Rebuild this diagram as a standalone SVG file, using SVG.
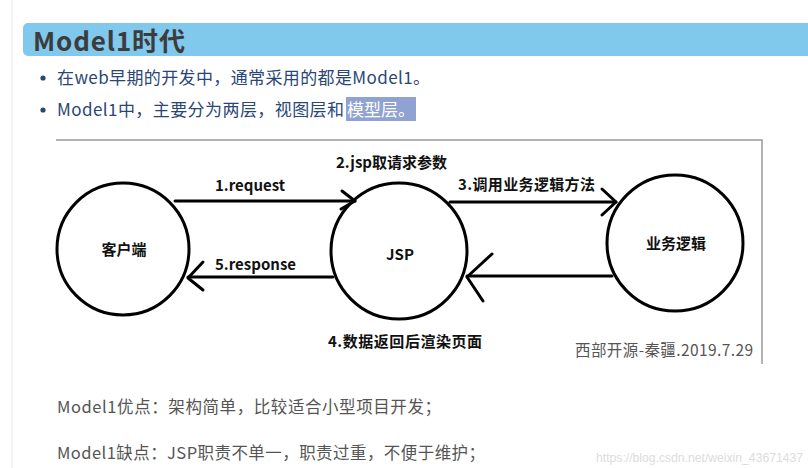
<svg xmlns="http://www.w3.org/2000/svg" width="808" height="468" viewBox="0 0 808 468">
<style>
  .cjk { font-family: "Noto Sans CJK SC", "Noto Sans", sans-serif; }
  .bullet { font-size: 17px; fill: #2a4677; }
  .note { font-size: 16.5px; fill: #555555; }
  .lbl { font-size: 15px; font-weight: bold; fill: #111111; }
  .node circle { fill: #ffffff; stroke: #000000; stroke-width: 3; }
  .conn line, .conn polyline { fill: none; stroke: #000000; stroke-width: 3; stroke-linecap: round; stroke-linejoin: round; }
  .frame { stroke: #9a9a9a; stroke-width: 1.5; fill: none; }
</style>
<rect x="0" y="0" width="808" height="468" fill="#ffffff"/>
<line x1="12" y1="0" x2="12" y2="468" stroke="#f0f0f0" stroke-width="1.5"/>

<!-- header -->
<rect x="23" y="23" width="800" height="33" rx="5" fill="#80c8ec"/>
<text x="33" y="51" class="cjk" font-size="26" font-weight="bold" fill="#3c3c3c" textLength="152" lengthAdjust="spacing">Model1时代</text>

<!-- bullets -->
<circle cx="43" cy="78" r="2.6" fill="#2a4677"/>
<text x="57" y="84" class="cjk bullet" textLength="373" lengthAdjust="spacing">在web早期的开发中，通常采用的都是Model1。</text>
<circle cx="43" cy="110" r="2.6" fill="#2a4677"/>
<rect x="346" y="97" width="70" height="24" fill="#8fa2d1"/>
<text x="57" y="116" class="cjk bullet" textLength="287" lengthAdjust="spacing">Model1中，主要分为两层，视图层和</text>
<text x="347" y="116" class="cjk bullet" fill="#ffffff" style="fill:#ffffff" textLength="68" lengthAdjust="spacing">模型层。</text>

<!-- picture frame -->
<polyline class="frame" points="56,140 762,140 762,364"/>

<!-- nodes -->
<g id="node-client" class="node">
  <circle cx="123" cy="249" r="66"/>
  <text x="124" y="255" class="cjk lbl" text-anchor="middle">客户端</text>
</g>
<g id="node-jsp" class="node">
  <circle cx="399" cy="251" r="68"/>
  <text x="400" y="260" class="cjk lbl" text-anchor="middle">JSP</text>
</g>
<g id="node-logic" class="node">
  <circle cx="675" cy="243" r="68"/>
  <text x="676" y="249" class="cjk lbl" text-anchor="middle">业务逻辑</text>
</g>

<!-- connectors -->
<g id="connectors" class="conn">
  <line x1="175" y1="201" x2="355" y2="201"/>
  <polyline points="342,191 355,201 341,209"/>
  <line x1="450" y1="202" x2="616" y2="202"/>
  <polyline points="602,189 616,202 602,215"/>
  <line x1="612" y1="276" x2="467" y2="276"/>
  <polyline points="492,254 467,277 483,301"/>
  <line x1="333" y1="277" x2="188" y2="277"/>
  <polyline points="203,262 188,278 203,290"/>
</g>
<g id="connector-labels">
  <text x="215" y="191" class="cjk lbl">1.request</text>
  <text x="336" y="168" class="cjk lbl">2.jsp取请求参数</text>
  <text x="458" y="190" class="cjk lbl" textLength="137" lengthAdjust="spacing">3.调用业务逻辑方法</text>
  <text x="328" y="347" class="cjk lbl" textLength="154" lengthAdjust="spacing">4.数据返回后渲染页面</text>
  <text x="215" y="270" class="cjk lbl">5.response</text>
</g>

<text x="575" y="356" class="cjk" font-size="15.5" fill="#555555" textLength="178" lengthAdjust="spacing">西部开源-秦疆.2019.7.29</text>

<!-- notes -->
<text x="57" y="413" class="cjk note" textLength="384" lengthAdjust="spacing">Model1优点：架构简单，比较适合小型项目开发；</text>
<text x="57" y="459" class="cjk note" textLength="428" lengthAdjust="spacing">Model1缺点：JSP职责不单一，职责过重，不便于维护；</text>

<text x="596" y="462" font-family="Liberation Sans, sans-serif" font-size="12.5" fill="#dcdcdc" textLength="207" lengthAdjust="spacingAndGlyphs">https://blog.csdn.net/weixin_43671437</text>
</svg>
